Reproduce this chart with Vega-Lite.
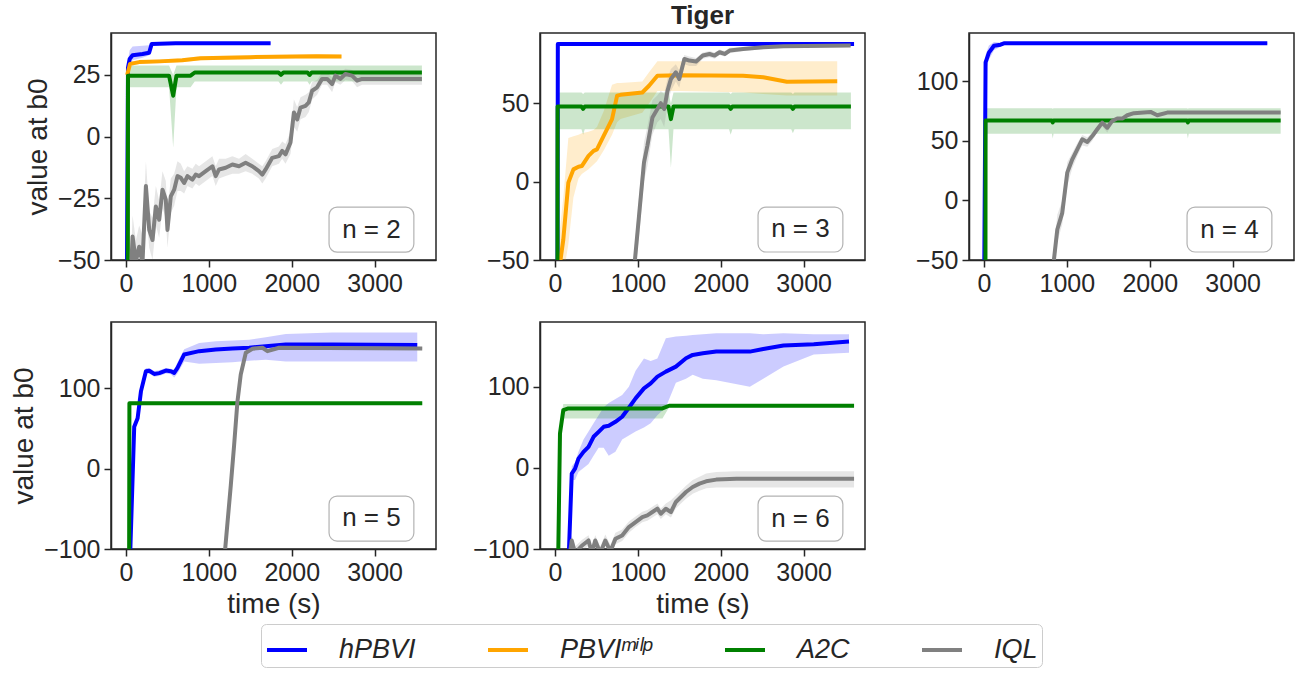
{
  "$schema": "https://vega.github.io/schema/vega-lite/v6.json",
  "padding": {"left": 9, "top": 2, "right": 2, "bottom": 2},
  "datasets": {
    "p1": [
      {"m":"hPBVI","x":5,"y":-100,"lo":-100,"hi":-100},
      {"m":"hPBVI","x":25,"y":28,"lo":25,"hi":31},
      {"m":"hPBVI","x":45,"y":31.5,"lo":29,"hi":35},
      {"m":"hPBVI","x":80,"y":33,"lo":31,"hi":36.5},
      {"m":"hPBVI","x":200,"y":33.5,"lo":32,"hi":36.8},
      {"m":"hPBVI","x":280,"y":34,"lo":33,"hi":37},
      {"m":"hPBVI","x":310,"y":37.5,"lo":37,"hi":38},
      {"m":"hPBVI","x":600,"y":37.8,"lo":37.5,"hi":38.1},
      {"m":"hPBVI","x":1745,"y":37.8,"lo":37.5,"hi":38.1},
      {"m":"PBVIᵐⁱˡᵖ","x":15,"y":25,"lo":24,"hi":26},
      {"m":"PBVIᵐⁱˡᵖ","x":50,"y":29.5,"lo":28.5,"hi":30.5},
      {"m":"PBVIᵐⁱˡᵖ","x":160,"y":30.2,"lo":29.4,"hi":31},
      {"m":"PBVIᵐⁱˡᵖ","x":400,"y":30.5,"lo":29.7,"hi":31.3},
      {"m":"PBVIᵐⁱˡᵖ","x":680,"y":31,"lo":30.2,"hi":31.8},
      {"m":"PBVIᵐⁱˡᵖ","x":900,"y":31.8,"lo":31,"hi":32.6},
      {"m":"PBVIᵐⁱˡᵖ","x":1500,"y":32.2,"lo":31.4,"hi":33},
      {"m":"PBVIᵐⁱˡᵖ","x":2300,"y":32.6,"lo":31.8,"hi":33.4},
      {"m":"PBVIᵐⁱˡᵖ","x":2600,"y":32.5,"lo":31.7,"hi":33.3},
      {"m":"A2C","x":22,"y":-100,"lo":-100,"hi":-100},
      {"m":"A2C","x":25,"y":24.7,"lo":20,"hi":28.8},
      {"m":"A2C","x":520,"y":24.7,"lo":20,"hi":28.8},
      {"m":"A2C","x":570,"y":16.6,"lo":-4.5,"hi":25},
      {"m":"A2C","x":610,"y":24.7,"lo":20,"hi":28.8},
      {"m":"A2C","x":780,"y":24.7,"lo":20,"hi":28.8},
      {"m":"A2C","x":830,"y":26,"lo":22.3,"hi":28.8},
      {"m":"A2C","x":1840,"y":26,"lo":22.3,"hi":28.8},
      {"m":"A2C","x":1870,"y":25,"lo":21,"hi":28.8},
      {"m":"A2C","x":1900,"y":26,"lo":22.3,"hi":28.8},
      {"m":"A2C","x":2190,"y":26,"lo":22.3,"hi":28.8},
      {"m":"A2C","x":2215,"y":25,"lo":21,"hi":28.8},
      {"m":"A2C","x":2240,"y":26,"lo":22.3,"hi":28.8},
      {"m":"A2C","x":3570,"y":26,"lo":22.3,"hi":28.8},
      {"m":"IQL","x":5,"y":-100,"lo":-100,"hi":-100},
      {"m":"IQL","x":80,"y":-40.5,"lo":-50,"hi":-32},
      {"m":"IQL","x":120,"y":-50.5,"lo":-58,"hi":-42},
      {"m":"IQL","x":160,"y":-44.6,"lo":-52,"hi":-36},
      {"m":"IQL","x":200,"y":-51,"lo":-58,"hi":-40},
      {"m":"IQL","x":241,"y":-20,"lo":-30,"hi":-10},
      {"m":"IQL","x":281,"y":-37.8,"lo":-45,"hi":-30},
      {"m":"IQL","x":321,"y":-41.9,"lo":-50,"hi":-33},
      {"m":"IQL","x":361,"y":-28.3,"lo":-36,"hi":-20},
      {"m":"IQL","x":401,"y":-33.7,"lo":-41,"hi":-26},
      {"m":"IQL","x":441,"y":-21.5,"lo":-29,"hi":-14},
      {"m":"IQL","x":481,"y":-25.5,"lo":-33,"hi":-18},
      {"m":"IQL","x":501,"y":-37.8,"lo":-45,"hi":-30},
      {"m":"IQL","x":541,"y":-24.2,"lo":-31,"hi":-17},
      {"m":"IQL","x":582,"y":-21.5,"lo":-28,"hi":-15},
      {"m":"IQL","x":622,"y":-16,"lo":-22,"hi":-10},
      {"m":"IQL","x":662,"y":-16.7,"lo":-22,"hi":-11},
      {"m":"IQL","x":702,"y":-18.8,"lo":-23,"hi":-14},
      {"m":"IQL","x":742,"y":-16,"lo":-20,"hi":-12},
      {"m":"IQL","x":802,"y":-17.4,"lo":-21,"hi":-13},
      {"m":"IQL","x":842,"y":-15.4,"lo":-19,"hi":-11},
      {"m":"IQL","x":882,"y":-16,"lo":-20,"hi":-12},
      {"m":"IQL","x":963,"y":-14,"lo":-18,"hi":-10},
      {"m":"IQL","x":1043,"y":-12,"lo":-16,"hi":-8},
      {"m":"IQL","x":1083,"y":-16,"lo":-20,"hi":-12},
      {"m":"IQL","x":1123,"y":-13.3,"lo":-17,"hi":-9},
      {"m":"IQL","x":1203,"y":-12.6,"lo":-16,"hi":-9},
      {"m":"IQL","x":1284,"y":-11.3,"lo":-15,"hi":-8},
      {"m":"IQL","x":1364,"y":-12,"lo":-15,"hi":-9},
      {"m":"IQL","x":1444,"y":-10.6,"lo":-14,"hi":-7},
      {"m":"IQL","x":1524,"y":-12,"lo":-15,"hi":-9},
      {"m":"IQL","x":1604,"y":-14,"lo":-17,"hi":-11},
      {"m":"IQL","x":1645,"y":-15.4,"lo":-19,"hi":-12},
      {"m":"IQL","x":1685,"y":-13.3,"lo":-17,"hi":-10},
      {"m":"IQL","x":1765,"y":-8.6,"lo":-12,"hi":-5},
      {"m":"IQL","x":1845,"y":-7.9,"lo":-11,"hi":-4},
      {"m":"IQL","x":1885,"y":-5.8,"lo":-9,"hi":-2},
      {"m":"IQL","x":1925,"y":-7.2,"lo":-11,"hi":-3},
      {"m":"IQL","x":1985,"y":-2.4,"lo":-7,"hi":2},
      {"m":"IQL","x":2026,"y":9.8,"lo":4,"hi":15},
      {"m":"IQL","x":2066,"y":7,"lo":2,"hi":12},
      {"m":"IQL","x":2106,"y":11.8,"lo":7,"hi":16},
      {"m":"IQL","x":2166,"y":12.5,"lo":8,"hi":17},
      {"m":"IQL","x":2206,"y":13.9,"lo":10,"hi":18},
      {"m":"IQL","x":2246,"y":18.6,"lo":15,"hi":22},
      {"m":"IQL","x":2306,"y":20,"lo":17,"hi":23},
      {"m":"IQL","x":2366,"y":23.4,"lo":21,"hi":26},
      {"m":"IQL","x":2427,"y":23.4,"lo":21,"hi":26},
      {"m":"IQL","x":2487,"y":21.3,"lo":18,"hi":24},
      {"m":"IQL","x":2527,"y":24.7,"lo":22,"hi":27},
      {"m":"IQL","x":2587,"y":23.4,"lo":21,"hi":26},
      {"m":"IQL","x":2647,"y":25.4,"lo":23,"hi":27.5},
      {"m":"IQL","x":2727,"y":24.7,"lo":22.5,"hi":27},
      {"m":"IQL","x":2788,"y":22.7,"lo":20,"hi":25},
      {"m":"IQL","x":2848,"y":23.4,"lo":21,"hi":25.5},
      {"m":"IQL","x":3570,"y":23.4,"lo":21,"hi":25.5}
    ],
    "p2": [
      {"m":"hPBVI","x":30,"y":-100},
      {"m":"hPBVI","x":35,"y":88},
      {"m":"hPBVI","x":3608,"y":88},
      {"m":"PBVIᵐⁱˡᵖ","x":41,"y":-60,"lo":-80,"hi":-40},
      {"m":"PBVIᵐⁱˡᵖ","x":101,"y":-37,"lo":-60,"hi":-10},
      {"m":"PBVIᵐⁱˡᵖ","x":162,"y":-0.6,"lo":-40,"hi":28},
      {"m":"PBVIᵐⁱˡᵖ","x":223,"y":7.9,"lo":-10,"hi":29},
      {"m":"PBVIᵐⁱˡᵖ","x":284,"y":9.6,"lo":2,"hi":30},
      {"m":"PBVIᵐⁱˡᵖ","x":324,"y":10,"lo":5,"hi":31},
      {"m":"PBVIᵐⁱˡᵖ","x":405,"y":16.5,"lo":8,"hi":32},
      {"m":"PBVIᵐⁱˡᵖ","x":466,"y":19.7,"lo":11,"hi":33},
      {"m":"PBVIᵐⁱˡᵖ","x":507,"y":20.7,"lo":13,"hi":35},
      {"m":"PBVIᵐⁱˡᵖ","x":588,"y":29.3,"lo":20,"hi":45},
      {"m":"PBVIᵐⁱˡᵖ","x":689,"y":40,"lo":30,"hi":62},
      {"m":"PBVIᵐⁱˡᵖ","x":750,"y":55,"lo":38,"hi":63},
      {"m":"PBVIᵐⁱˡᵖ","x":791,"y":55.5,"lo":40,"hi":63},
      {"m":"PBVIᵐⁱˡᵖ","x":1054,"y":57,"lo":44,"hi":64},
      {"m":"PBVIᵐⁱˡᵖ","x":1135,"y":61.3,"lo":50,"hi":70},
      {"m":"PBVIᵐⁱˡᵖ","x":1236,"y":67.7,"lo":58,"hi":77},
      {"m":"PBVIᵐⁱˡᵖ","x":1500,"y":68,"lo":58,"hi":77},
      {"m":"PBVIᵐⁱˡᵖ","x":2270,"y":67.7,"lo":57,"hi":77},
      {"m":"PBVIᵐⁱˡᵖ","x":2513,"y":66.7,"lo":56,"hi":77},
      {"m":"PBVIᵐⁱˡᵖ","x":2797,"y":63.9,"lo":55,"hi":77},
      {"m":"PBVIᵐⁱˡᵖ","x":3405,"y":64.1,"lo":55,"hi":77},
      {"m":"A2C","x":30,"y":-100,"lo":-100,"hi":-100},
      {"m":"A2C","x":32,"y":48,"lo":33.5,"hi":57},
      {"m":"A2C","x":320,"y":48,"lo":33.5,"hi":57},
      {"m":"A2C","x":340,"y":46.5,"lo":30,"hi":56},
      {"m":"A2C","x":360,"y":48,"lo":33.5,"hi":57},
      {"m":"A2C","x":1370,"y":48,"lo":33.5,"hi":57},
      {"m":"A2C","x":1399,"y":40,"lo":9,"hi":50},
      {"m":"A2C","x":1430,"y":48,"lo":33.5,"hi":57},
      {"m":"A2C","x":2100,"y":48,"lo":33.5,"hi":57},
      {"m":"A2C","x":2120,"y":46.5,"lo":30,"hi":56},
      {"m":"A2C","x":2140,"y":48,"lo":33.5,"hi":57},
      {"m":"A2C","x":2850,"y":48,"lo":33.5,"hi":57},
      {"m":"A2C","x":2870,"y":46.5,"lo":31,"hi":56},
      {"m":"A2C","x":2890,"y":48,"lo":33.5,"hi":57},
      {"m":"A2C","x":3570,"y":48,"lo":33.5,"hi":57},
      {"m":"IQL","x":940,"y":-100,"lo":-100,"hi":-100},
      {"m":"IQL","x":965,"y":-50,"lo":-60,"hi":-40},
      {"m":"IQL","x":1014,"y":-22,"lo":-35,"hi":-10},
      {"m":"IQL","x":1074,"y":12.2,"lo":0,"hi":25},
      {"m":"IQL","x":1115,"y":22.9,"lo":10,"hi":35},
      {"m":"IQL","x":1176,"y":41,"lo":30,"hi":52},
      {"m":"IQL","x":1236,"y":46.4,"lo":38,"hi":55},
      {"m":"IQL","x":1277,"y":50.2,"lo":40,"hi":58},
      {"m":"IQL","x":1318,"y":46.4,"lo":35,"hi":56},
      {"m":"IQL","x":1358,"y":58,"lo":50,"hi":66},
      {"m":"IQL","x":1399,"y":65.6,"lo":58,"hi":72},
      {"m":"IQL","x":1459,"y":69.9,"lo":64,"hi":75},
      {"m":"IQL","x":1500,"y":65.6,"lo":60,"hi":71},
      {"m":"IQL","x":1561,"y":78.4,"lo":75,"hi":81},
      {"m":"IQL","x":1622,"y":77.4,"lo":74,"hi":80},
      {"m":"IQL","x":1703,"y":76.8,"lo":74,"hi":79},
      {"m":"IQL","x":1784,"y":80.6,"lo":78.5,"hi":82.5},
      {"m":"IQL","x":1865,"y":81.6,"lo":79.5,"hi":83.5},
      {"m":"IQL","x":1926,"y":80.6,"lo":78.5,"hi":82.5},
      {"m":"IQL","x":1986,"y":82.7,"lo":81,"hi":84.5},
      {"m":"IQL","x":2047,"y":81.6,"lo":80,"hi":83.5},
      {"m":"IQL","x":2108,"y":83.8,"lo":82,"hi":85.5},
      {"m":"IQL","x":2270,"y":84.8,"lo":83.5,"hi":86},
      {"m":"IQL","x":2513,"y":85.9,"lo":84.8,"hi":87},
      {"m":"IQL","x":2757,"y":86.5,"lo":85.5,"hi":87.5},
      {"m":"IQL","x":3567,"y":87,"lo":86,"hi":88}
    ],
    "p3": [
      {"m":"hPBVI","x":0,"y":-100,"lo":-100,"hi":-100},
      {"m":"hPBVI","x":20,"y":115.8,"lo":108,"hi":122},
      {"m":"hPBVI","x":60,"y":124,"lo":118,"hi":130},
      {"m":"hPBVI","x":121,"y":129.8,"lo":126,"hi":133},
      {"m":"hPBVI","x":201,"y":130.7,"lo":129,"hi":132.5},
      {"m":"hPBVI","x":241,"y":131.8,"lo":131,"hi":132.5},
      {"m":"hPBVI","x":3418,"y":131.8,"lo":131,"hi":132.5},
      {"m":"A2C","x":18,"y":-100,"lo":-100,"hi":-100},
      {"m":"A2C","x":20,"y":67,"lo":56,"hi":77.4},
      {"m":"A2C","x":820,"y":67,"lo":56,"hi":77.4},
      {"m":"A2C","x":830,"y":65.5,"lo":52,"hi":77},
      {"m":"A2C","x":840,"y":67,"lo":56,"hi":77.4},
      {"m":"A2C","x":2450,"y":67,"lo":56,"hi":77.4},
      {"m":"A2C","x":2460,"y":65.5,"lo":52,"hi":77},
      {"m":"A2C","x":2470,"y":67,"lo":56,"hi":77.4},
      {"m":"A2C","x":3579,"y":67,"lo":56,"hi":77.4},
      {"m":"IQL","x":820,"y":-100,"lo":-100,"hi":-100},
      {"m":"IQL","x":844,"y":-50,"lo":-60,"hi":-40},
      {"m":"IQL","x":885,"y":-24.4,"lo":-35,"hi":-12},
      {"m":"IQL","x":945,"y":-10.4,"lo":-20,"hi":0},
      {"m":"IQL","x":1005,"y":23.3,"lo":12,"hi":32},
      {"m":"IQL","x":1066,"y":34.5,"lo":27,"hi":40},
      {"m":"IQL","x":1126,"y":42.9,"lo":37,"hi":48},
      {"m":"IQL","x":1186,"y":51.3,"lo":46,"hi":55},
      {"m":"IQL","x":1247,"y":49,"lo":45,"hi":53},
      {"m":"IQL","x":1307,"y":54,"lo":50,"hi":57},
      {"m":"IQL","x":1367,"y":59.7,"lo":57,"hi":62},
      {"m":"IQL","x":1427,"y":65.3,"lo":62,"hi":67},
      {"m":"IQL","x":1488,"y":61,"lo":57,"hi":65},
      {"m":"IQL","x":1548,"y":66.7,"lo":65,"hi":68.5},
      {"m":"IQL","x":1608,"y":68.7,"lo":67,"hi":70},
      {"m":"IQL","x":1669,"y":68.7,"lo":67.5,"hi":70},
      {"m":"IQL","x":1729,"y":71.5,"lo":70.5,"hi":72.5},
      {"m":"IQL","x":1809,"y":73.2,"lo":72.3,"hi":74},
      {"m":"IQL","x":2010,"y":74.3,"lo":73.5,"hi":75},
      {"m":"IQL","x":2091,"y":71.5,"lo":70.5,"hi":72.5},
      {"m":"IQL","x":2212,"y":73.7,"lo":73,"hi":74.5},
      {"m":"IQL","x":3579,"y":73.7,"lo":73,"hi":74.5}
    ],
    "p4": [
      {"m":"hPBVI","x":38,"y":-150,"lo":-150,"hi":-150},
      {"m":"hPBVI","x":100,"y":52,"lo":48,"hi":56},
      {"m":"hPBVI","x":141,"y":62.5,"lo":58,"hi":67},
      {"m":"hPBVI","x":181,"y":95.8,"lo":90,"hi":100},
      {"m":"hPBVI","x":241,"y":120.8,"lo":117,"hi":125},
      {"m":"hPBVI","x":281,"y":121.5,"lo":118,"hi":125},
      {"m":"hPBVI","x":341,"y":117.5,"lo":114,"hi":121},
      {"m":"hPBVI","x":402,"y":118.5,"lo":115,"hi":122},
      {"m":"hPBVI","x":482,"y":121.7,"lo":118,"hi":125},
      {"m":"hPBVI","x":542,"y":120.8,"lo":117,"hi":124},
      {"m":"hPBVI","x":582,"y":118.8,"lo":113,"hi":123},
      {"m":"hPBVI","x":622,"y":125,"lo":118,"hi":132},
      {"m":"hPBVI","x":703,"y":141.7,"lo":133,"hi":148},
      {"m":"hPBVI","x":884,"y":145.8,"lo":130,"hi":156},
      {"m":"hPBVI","x":1084,"y":147.9,"lo":131,"hi":158},
      {"m":"hPBVI","x":1285,"y":149.2,"lo":132,"hi":159},
      {"m":"hPBVI","x":1486,"y":150,"lo":134,"hi":160},
      {"m":"hPBVI","x":1687,"y":152,"lo":135,"hi":163},
      {"m":"hPBVI","x":1928,"y":154.2,"lo":133,"hi":167},
      {"m":"hPBVI","x":2490,"y":154.2,"lo":133,"hi":169},
      {"m":"hPBVI","x":3514,"y":153.3,"lo":133,"hi":169},
      {"m":"A2C","x":38,"y":-150,"lo":-150,"hi":-150},
      {"m":"A2C","x":42,"y":81,"lo":79,"hi":83},
      {"m":"A2C","x":3574,"y":81,"lo":79,"hi":83},
      {"m":"IQL","x":1180,"y":-150,"lo":-150,"hi":-150},
      {"m":"IQL","x":1197,"y":-100,"lo":-103,"hi":-97},
      {"m":"IQL","x":1265,"y":-20.8,"lo":-24,"hi":-17},
      {"m":"IQL","x":1305,"y":29,"lo":25,"hi":33},
      {"m":"IQL","x":1345,"y":83,"lo":79,"hi":87},
      {"m":"IQL","x":1385,"y":116.7,"lo":113,"hi":120},
      {"m":"IQL","x":1446,"y":143.8,"lo":141,"hi":146},
      {"m":"IQL","x":1526,"y":148.8,"lo":147,"hi":150.5},
      {"m":"IQL","x":1647,"y":150,"lo":148.5,"hi":151.5},
      {"m":"IQL","x":1707,"y":145.8,"lo":144,"hi":147.5},
      {"m":"IQL","x":1847,"y":150,"lo":148.5,"hi":151.5},
      {"m":"IQL","x":3574,"y":149.2,"lo":148,"hi":150.5}
    ],
    "p5": [
      {"m":"hPBVI","x":165,"y":-150,"lo":-150,"hi":-150},
      {"m":"hPBVI","x":170,"y":-100,"lo":-110,"hi":-90},
      {"m":"hPBVI","x":203,"y":-7,"lo":-15,"hi":2},
      {"m":"hPBVI","x":243,"y":-0.8,"lo":-15,"hi":7},
      {"m":"hPBVI","x":284,"y":11.5,"lo":-5,"hi":20},
      {"m":"hPBVI","x":345,"y":19.8,"lo":0,"hi":35},
      {"m":"hPBVI","x":405,"y":26,"lo":5,"hi":45},
      {"m":"hPBVI","x":466,"y":38.4,"lo":15,"hi":55},
      {"m":"hPBVI","x":527,"y":44.5,"lo":25,"hi":65},
      {"m":"hPBVI","x":588,"y":50.7,"lo":25,"hi":75},
      {"m":"hPBVI","x":649,"y":52,"lo":15,"hi":80},
      {"m":"hPBVI","x":730,"y":56.9,"lo":20,"hi":85},
      {"m":"hPBVI","x":811,"y":63.1,"lo":35,"hi":90},
      {"m":"hPBVI","x":892,"y":74.2,"lo":40,"hi":100},
      {"m":"hPBVI","x":973,"y":85.8,"lo":45,"hi":120},
      {"m":"hPBVI","x":1074,"y":98.1,"lo":50,"hi":135},
      {"m":"hPBVI","x":1155,"y":104.3,"lo":55,"hi":132},
      {"m":"hPBVI","x":1236,"y":112.6,"lo":65,"hi":135},
      {"m":"hPBVI","x":1338,"y":118.8,"lo":75,"hi":160},
      {"m":"hPBVI","x":1459,"y":125,"lo":105,"hi":162},
      {"m":"hPBVI","x":1581,"y":135.3,"lo":110,"hi":163},
      {"m":"hPBVI","x":1662,"y":139.4,"lo":115,"hi":164},
      {"m":"hPBVI","x":1784,"y":141.4,"lo":110,"hi":165},
      {"m":"hPBVI","x":1946,"y":143.5,"lo":108,"hi":166},
      {"m":"hPBVI","x":2351,"y":143.5,"lo":100,"hi":166},
      {"m":"hPBVI","x":2513,"y":146.8,"lo":110,"hi":165},
      {"m":"hPBVI","x":2757,"y":150.9,"lo":125,"hi":166},
      {"m":"hPBVI","x":3122,"y":152.6,"lo":140,"hi":165},
      {"m":"hPBVI","x":3547,"y":155.9,"lo":142,"hi":165},
      {"m":"A2C","x":40,"y":-150,"lo":-150,"hi":-150},
      {"m":"A2C","x":41,"y":-100,"lo":-100,"hi":-100},
      {"m":"A2C","x":61,"y":42.5,"lo":30,"hi":55},
      {"m":"A2C","x":101,"y":71.3,"lo":61,"hi":79},
      {"m":"A2C","x":162,"y":73.4,"lo":61,"hi":79},
      {"m":"A2C","x":1297,"y":73.4,"lo":61,"hi":79},
      {"m":"A2C","x":1378,"y":76.7,"lo":75,"hi":78.5},
      {"m":"A2C","x":3608,"y":76.7,"lo":75,"hi":78.5},
      {"m":"IQL","x":182,"y":-105,"lo":-110,"hi":-100},
      {"m":"IQL","x":203,"y":-89.5,"lo":-96,"hi":-83},
      {"m":"IQL","x":243,"y":-105,"lo":-110,"hi":-97},
      {"m":"IQL","x":324,"y":-96,"lo":-103,"hi":-89},
      {"m":"IQL","x":405,"y":-89.5,"lo":-96,"hi":-83},
      {"m":"IQL","x":446,"y":-105,"lo":-110,"hi":-97},
      {"m":"IQL","x":486,"y":-89.5,"lo":-96,"hi":-83},
      {"m":"IQL","x":547,"y":-105,"lo":-110,"hi":-97},
      {"m":"IQL","x":608,"y":-89.5,"lo":-96,"hi":-82},
      {"m":"IQL","x":669,"y":-103,"lo":-110,"hi":-95},
      {"m":"IQL","x":730,"y":-87.4,"lo":-94,"hi":-80},
      {"m":"IQL","x":811,"y":-83.3,"lo":-90,"hi":-76},
      {"m":"IQL","x":892,"y":-73,"lo":-80,"hi":-66},
      {"m":"IQL","x":973,"y":-66.8,"lo":-73,"hi":-60},
      {"m":"IQL","x":1054,"y":-60.6,"lo":-67,"hi":-54},
      {"m":"IQL","x":1115,"y":-58.5,"lo":-65,"hi":-52},
      {"m":"IQL","x":1176,"y":-54.4,"lo":-61,"hi":-48},
      {"m":"IQL","x":1236,"y":-50.3,"lo":-57,"hi":-44},
      {"m":"IQL","x":1277,"y":-56.5,"lo":-63,"hi":-50},
      {"m":"IQL","x":1338,"y":-50.3,"lo":-57,"hi":-44},
      {"m":"IQL","x":1399,"y":-54.4,"lo":-61,"hi":-40},
      {"m":"IQL","x":1459,"y":-42,"lo":-50,"hi":-34},
      {"m":"IQL","x":1520,"y":-35.9,"lo":-44,"hi":-28},
      {"m":"IQL","x":1581,"y":-29.7,"lo":-38,"hi":-22},
      {"m":"IQL","x":1662,"y":-23.5,"lo":-32,"hi":-15},
      {"m":"IQL","x":1743,"y":-19.4,"lo":-28,"hi":-11},
      {"m":"IQL","x":1824,"y":-16.5,"lo":-25,"hi":-7},
      {"m":"IQL","x":1946,"y":-14.4,"lo":-24,"hi":-5},
      {"m":"IQL","x":2189,"y":-13.2,"lo":-24,"hi":-4},
      {"m":"IQL","x":3608,"y":-13.2,"lo":-24,"hi":-4}
    ]
  },
  "columns": 3,
  "spacing": {"row": 62, "column": 104},
  "bounds": "flush",
  "concat": [
    {
      "width": 325, "height": 227,
      "data": {"name": "p1"},
      "layer": [
        {"mark": {"type": "area", "fillOpacity": 0.2, "clip": true},
         "encoding": {
           "x": {"field": "x", "type": "quantitative", "scale": {"domain": [-180, 3740], "nice": false, "zero": false}, "axis": {"values": [0, 1000, 2000, 3000], "format": "d", "title": null}},
           "y": {"field": "lo", "type": "quantitative", "scale": {"domain": [-50, 42], "nice": false, "zero": false}, "axis": {"values": [-50, -25, 0, 25], "format": "d", "title": "value at b0"}},
           "y2": {"field": "hi"},
           "color": {"field": "m", "type": "nominal", "title": null, "scale": {"domain": ["hPBVI", "PBVIᵐⁱˡᵖ", "A2C", "IQL"], "range": ["#0000ff", "#ffa500", "#008000", "#808080"]}}
         }},
        {"mark": {"type": "line", "strokeWidth": 4, "clip": true, "strokeJoin": "round"},
         "encoding": {
           "x": {"field": "x", "type": "quantitative"},
           "y": {"field": "y", "type": "quantitative"},
           "color": {"field": "m", "type": "nominal", "title": null}
         }},
        {"data": {"values": [{"x1": 2450, "x2": 3473, "y1": -46.8, "y2": -28.6}]},
         "mark": {"type": "rect", "fill": "white", "fillOpacity": 0.8, "stroke": "#b3b3b3", "strokeWidth": 1.2, "cornerRadius": 8},
         "encoding": {"x": {"field": "x1", "type": "quantitative"}, "x2": {"field": "x2"}, "y": {"field": "y1", "type": "quantitative"}, "y2": {"field": "y2"}}},
        {"data": {"values": [{"xc": 2961, "yc": -37.7, "label": "n = 2"}]},
         "mark": {"type": "text", "fontSize": 26, "color": "#262626", "baseline": "middle", "align": "center"},
         "encoding": {"x": {"field": "xc", "type": "quantitative"}, "y": {"field": "yc", "type": "quantitative"}, "text": {"field": "label"}}}
      ]
    },
    {
      "width": 325, "height": 227,
      "title": {"text": "Tiger", "fontSize": 26, "fontWeight": "bold", "anchor": "middle", "offset": 4, "color": "#262626", "font": "Liberation Sans"},
      "data": {"name": "p2"},
      "layer": [
        {"mark": {"type": "area", "fillOpacity": 0.2, "clip": true},
         "encoding": {
           "x": {"field": "x", "type": "quantitative", "scale": {"domain": [-180, 3740], "nice": false, "zero": false}, "axis": {"values": [0, 1000, 2000, 3000], "format": "d", "title": null}},
           "y": {"field": "lo", "type": "quantitative", "scale": {"domain": [-50, 95], "nice": false, "zero": false}, "axis": {"values": [-50, 0, 50], "format": "d", "title": null}},
           "y2": {"field": "hi"},
           "color": {"field": "m", "type": "nominal", "title": null, "scale": {"domain": ["hPBVI", "PBVIᵐⁱˡᵖ", "A2C", "IQL"], "range": ["#0000ff", "#ffa500", "#008000", "#808080"]}}
         }},
        {"mark": {"type": "line", "strokeWidth": 4, "clip": true, "strokeJoin": "round"},
         "encoding": {
           "x": {"field": "x", "type": "quantitative"},
           "y": {"field": "y", "type": "quantitative"},
           "color": {"field": "m", "type": "nominal", "title": null}
         }},
        {"data": {"values": [{"x1": 2450, "x2": 3473, "y1": -44.9, "y2": -16.2}]},
         "mark": {"type": "rect", "fill": "white", "fillOpacity": 0.8, "stroke": "#b3b3b3", "strokeWidth": 1.2, "cornerRadius": 8},
         "encoding": {"x": {"field": "x1", "type": "quantitative"}, "x2": {"field": "x2"}, "y": {"field": "y1", "type": "quantitative"}, "y2": {"field": "y2"}}},
        {"data": {"values": [{"xc": 2961, "yc": -30.5, "label": "n = 3"}]},
         "mark": {"type": "text", "fontSize": 26, "color": "#262626", "baseline": "middle", "align": "center"},
         "encoding": {"x": {"field": "xc", "type": "quantitative"}, "y": {"field": "yc", "type": "quantitative"}, "text": {"field": "label"}}}
      ]
    },
    {
      "width": 325, "height": 227,
      "data": {"name": "p3"},
      "layer": [
        {"mark": {"type": "area", "fillOpacity": 0.2, "clip": true},
         "encoding": {
           "x": {"field": "x", "type": "quantitative", "scale": {"domain": [-180, 3740], "nice": false, "zero": false}, "axis": {"values": [0, 1000, 2000, 3000], "format": "d", "title": null}},
           "y": {"field": "lo", "type": "quantitative", "scale": {"domain": [-50, 140.5], "nice": false, "zero": false}, "axis": {"values": [-50, 0, 50, 100], "format": "d", "title": null}},
           "y2": {"field": "hi"},
           "color": {"field": "m", "type": "nominal", "title": null, "scale": {"domain": ["hPBVI", "PBVIᵐⁱˡᵖ", "A2C", "IQL"], "range": ["#0000ff", "#ffa500", "#008000", "#808080"]}}
         }},
        {"mark": {"type": "line", "strokeWidth": 4, "clip": true, "strokeJoin": "round"},
         "encoding": {
           "x": {"field": "x", "type": "quantitative"},
           "y": {"field": "y", "type": "quantitative"},
           "color": {"field": "m", "type": "nominal", "title": null}
         }},
        {"data": {"values": [{"x1": 2450, "x2": 3473, "y1": -43.3, "y2": -5.6}]},
         "mark": {"type": "rect", "fill": "white", "fillOpacity": 0.8, "stroke": "#b3b3b3", "strokeWidth": 1.2, "cornerRadius": 8},
         "encoding": {"x": {"field": "x1", "type": "quantitative"}, "x2": {"field": "x2"}, "y": {"field": "y1", "type": "quantitative"}, "y2": {"field": "y2"}}},
        {"data": {"values": [{"xc": 2961, "yc": -24.5, "label": "n = 4"}]},
         "mark": {"type": "text", "fontSize": 26, "color": "#262626", "baseline": "middle", "align": "center"},
         "encoding": {"x": {"field": "xc", "type": "quantitative"}, "y": {"field": "yc", "type": "quantitative"}, "text": {"field": "label"}}}
      ]
    },
    {
      "width": 325, "height": 227,
      "data": {"name": "p4"},
      "layer": [
        {"mark": {"type": "area", "fillOpacity": 0.2, "clip": true},
         "encoding": {
           "x": {"field": "x", "type": "quantitative", "scale": {"domain": [-180, 3740], "nice": false, "zero": false}, "axis": {"values": [0, 1000, 2000, 3000], "format": "d", "title": "time (s)"}},
           "y": {"field": "lo", "type": "quantitative", "scale": {"domain": [-100, 182], "nice": false, "zero": false}, "axis": {"values": [-100, 0, 100], "format": "d", "title": "value at b0"}},
           "y2": {"field": "hi"},
           "color": {"field": "m", "type": "nominal", "title": null, "scale": {"domain": ["hPBVI", "PBVIᵐⁱˡᵖ", "A2C", "IQL"], "range": ["#0000ff", "#ffa500", "#008000", "#808080"]}}
         }},
        {"mark": {"type": "line", "strokeWidth": 4, "clip": true, "strokeJoin": "round"},
         "encoding": {
           "x": {"field": "x", "type": "quantitative"},
           "y": {"field": "y", "type": "quantitative"},
           "color": {"field": "m", "type": "nominal", "title": null}
         }},
        {"data": {"values": [{"x1": 2450, "x2": 3473, "y1": -90.1, "y2": -34.2}]},
         "mark": {"type": "rect", "fill": "white", "fillOpacity": 0.8, "stroke": "#b3b3b3", "strokeWidth": 1.2, "cornerRadius": 8},
         "encoding": {"x": {"field": "x1", "type": "quantitative"}, "x2": {"field": "x2"}, "y": {"field": "y1", "type": "quantitative"}, "y2": {"field": "y2"}}},
        {"data": {"values": [{"xc": 2961, "yc": -62, "label": "n = 5"}]},
         "mark": {"type": "text", "fontSize": 26, "color": "#262626", "baseline": "middle", "align": "center"},
         "encoding": {"x": {"field": "xc", "type": "quantitative"}, "y": {"field": "yc", "type": "quantitative"}, "text": {"field": "label"}}}
      ]
    },
    {
      "width": 325, "height": 227,
      "data": {"name": "p5"},
      "layer": [
        {"mark": {"type": "area", "fillOpacity": 0.2, "clip": true},
         "encoding": {
           "x": {"field": "x", "type": "quantitative", "scale": {"domain": [-180, 3740], "nice": false, "zero": false}, "axis": {"values": [0, 1000, 2000, 3000], "format": "d", "title": "time (s)"}},
           "y": {"field": "lo", "type": "quantitative", "scale": {"domain": [-100, 180], "nice": false, "zero": false}, "axis": {"values": [-100, 0, 100], "format": "d", "title": null}},
           "y2": {"field": "hi"},
           "color": {"field": "m", "type": "nominal", "title": null, "scale": {"domain": ["hPBVI", "PBVIᵐⁱˡᵖ", "A2C", "IQL"], "range": ["#0000ff", "#ffa500", "#008000", "#808080"]}}
         }},
        {"mark": {"type": "line", "strokeWidth": 4, "clip": true, "strokeJoin": "round"},
         "encoding": {
           "x": {"field": "x", "type": "quantitative"},
           "y": {"field": "y", "type": "quantitative"},
           "color": {"field": "m", "type": "nominal", "title": null}
         }},
        {"data": {"values": [{"x1": 2450, "x2": 3473, "y1": -90.2, "y2": -34.8}]},
         "mark": {"type": "rect", "fill": "white", "fillOpacity": 0.8, "stroke": "#b3b3b3", "strokeWidth": 1.2, "cornerRadius": 8},
         "encoding": {"x": {"field": "x1", "type": "quantitative"}, "x2": {"field": "x2"}, "y": {"field": "y1", "type": "quantitative"}, "y2": {"field": "y2"}}},
        {"data": {"values": [{"xc": 2961, "yc": -62.5, "label": "n = 6"}]},
         "mark": {"type": "text", "fontSize": 26, "color": "#262626", "baseline": "middle", "align": "center"},
         "encoding": {"x": {"field": "xc", "type": "quantitative"}, "y": {"field": "yc", "type": "quantitative"}, "text": {"field": "label"}}}
      ]
    }
  ],
  "resolve": {"scale": {"color": "shared"}, "legend": {"color": "shared"}},
  "config": {
    "font": "Liberation Sans",
    "background": "white",
    "view": {"stroke": "#262626", "strokeWidth": 1.5},
    "axis": {
      "labelFontSize": 25, "titleFontSize": 28, "titleFontWeight": "normal",
      "labelColor": "#262626", "titleColor": "#262626",
      "tickColor": "#262626", "domainColor": "#262626", "domainWidth": 1.5,
      "tickWidth": 1.5, "tickSize": 7, "labelPadding": 4, "titlePadding": 5,
      "grid": false, "labelFlush": false, "labelOverlap": false,
      "labelFont": "Liberation Sans", "titleFont": "Liberation Sans"
    },
    "legend": {
      "orient": "none", "legendX": 150, "legendY": 591, "direction": "horizontal",
      "symbolType": "stroke", "symbolSize": 1600, "symbolStrokeWidth": 4, "symbolOpacity": 1,
      "labelFontSize": 27, "labelFontStyle": "italic", "labelColor": "#262626",
      "labelFont": "Liberation Sans, DejaVu Sans", "labelOffset": 30, "columnPadding": 64,
      "padding": 4, "strokeColor": "#cccccc", "fillColor": "white", "cornerRadius": 5
    }
  }
}
